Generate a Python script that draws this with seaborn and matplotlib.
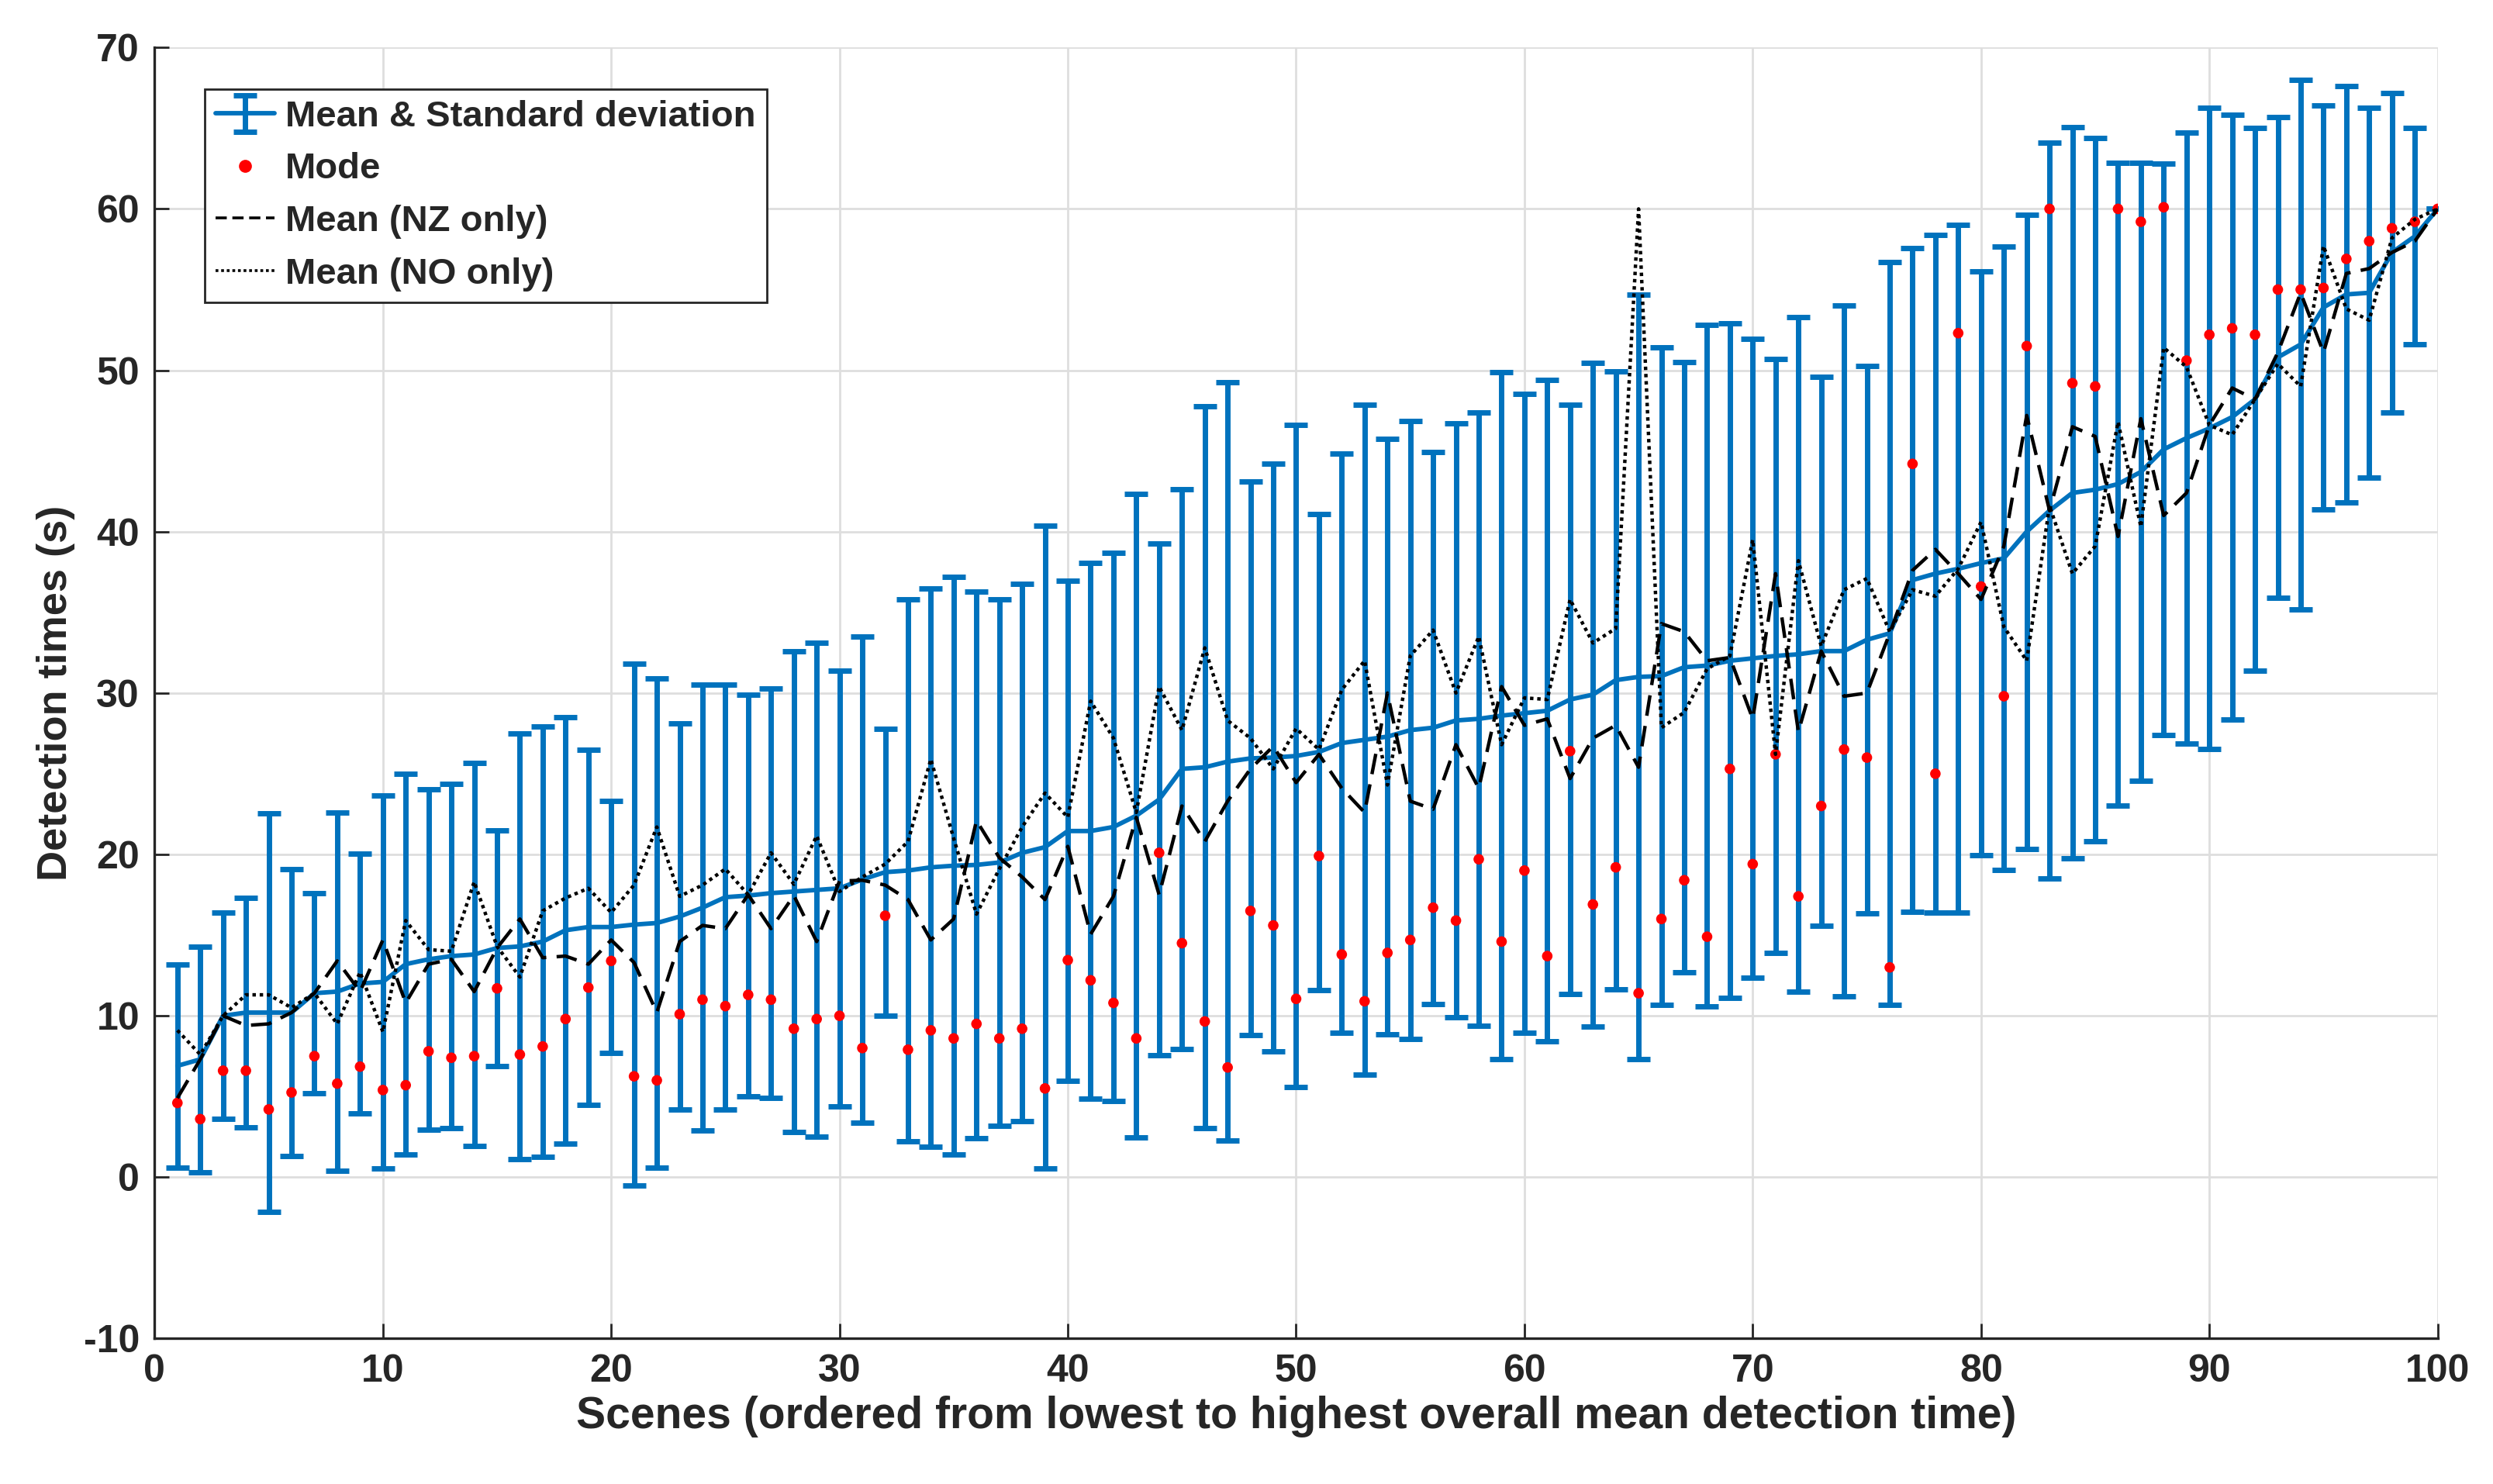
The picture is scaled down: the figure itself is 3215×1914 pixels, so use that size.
import numpy as np
import pandas as pd
import seaborn as sns
import matplotlib.pyplot as plt
from matplotlib.lines import Line2D

sns.set_theme(style="whitegrid")
plt.rcParams['font.family'] = ['Liberation Sans', 'DejaVu Sans']
plt.rcParams['font.weight'] = 'bold'
plt.rcParams['axes.labelweight'] = 'bold'
plt.rcParams['axes.unicode_minus'] = False

# values (scenes 1..100)
scene = np.arange(1, 101)

mean_all = [6.9, 7.3, 10.0, 10.2, 10.2, 10.2, 11.4, 11.5, 12.0, 12.1,
            13.2, 13.5, 13.7, 13.8, 14.2, 14.3, 14.6, 15.3, 15.5, 15.5,
            15.65, 15.75, 16.15, 16.7, 17.35, 17.45, 17.6, 17.7, 17.8, 17.9,
            18.45, 18.9, 19.0, 19.2, 19.3, 19.35, 19.5, 20.1, 20.45, 21.45,
            21.45, 21.7, 22.4, 23.4, 25.3, 25.4, 25.75, 25.95, 26.0, 26.1,
            26.35, 26.9, 27.1, 27.3, 27.7, 27.85, 28.3, 28.4, 28.6, 28.75,
            28.9, 29.6, 29.9, 30.8, 31.0, 31.05, 31.6, 31.7, 32.0, 32.15,
            32.3, 32.4, 32.6, 32.6, 33.3, 33.7, 37.0, 37.4, 37.7, 38.05,
            38.35, 40.0, 41.3, 42.4, 42.6, 42.95, 43.7, 45.1, 45.8, 46.4,
            47.1, 48.2, 50.8, 51.6, 53.9, 54.7, 54.8, 57.3, 58.3, 60.0]

std_all = [6.3, 7.0, 6.4, 7.1, 12.35, 8.9, 6.2, 11.1, 8.05, 11.55,
           11.8, 10.55, 10.65, 11.85, 7.3, 13.2, 13.35, 13.2, 11.0, 7.8,
           16.15, 15.15, 11.95, 13.8, 13.15, 12.45, 12.7, 14.9, 15.3, 13.5,
           15.05, 8.9, 16.8, 17.3, 17.9, 16.95, 16.3, 16.65, 19.9, 15.5,
           16.6, 17.0, 19.95, 15.85, 17.35, 22.35, 23.5, 17.15, 18.2, 20.5,
           14.75, 17.95, 20.75, 18.45, 19.15, 17.1, 18.4, 19.0, 21.3, 19.8,
           20.5, 18.25, 20.55, 19.15, 23.7, 20.35, 18.9, 21.1, 20.9, 19.8,
           18.4, 20.9, 17.0, 21.4, 16.95, 23.0, 20.55, 21.0, 21.3, 18.1,
           19.3, 19.65, 22.8, 22.65, 21.8, 19.9, 19.15, 17.7, 18.95, 19.85,
           18.75, 16.8, 14.9, 16.4, 12.5, 12.9, 11.45, 9.9, 6.7, 0.0]

mode_all = [4.6, 3.6, 6.6, 6.6, 4.2, 5.25, 7.5, 5.8, 6.85, 5.4,
            5.7, 7.8, 7.4, 7.5, 11.7, 7.6, 8.1, 9.8, 11.75, 13.4,
            6.25, 6.0, 10.1, 11.0, 10.6, 11.3, 11.0, 9.2, 9.8, 10.0,
            8.0, 16.2, 7.9, 9.1, 8.6, 9.5, 8.6, 9.2, 5.5, 13.45,
            12.2, 10.8, 8.6, 20.1, 14.5, 9.65, 6.8, 16.5, 15.6, 11.05,
            19.9, 13.8, 10.9, 13.9, 14.7, 16.7, 15.9, 19.7, 14.6, 19.0,
            13.7, 26.4, 16.9, 19.2, 11.4, 16.0, 18.4, 14.9, 25.3, 19.4,
            26.2, 17.4, 23.0, 26.5, 26.0, 13.0, 44.2, 25.0, 52.3, 36.6,
            29.8, 51.5, 60.0, 49.2, 49.0, 60.0, 59.2, 60.1, 50.6, 52.2,
            52.6, 52.2, 55.0, 55.0, 55.1, 56.9, 58.0, 58.8, 59.2, 60.0]

mean_nz = [4.9, 7.3, 10.0, 9.4, 9.5, 10.2, 11.4, 13.4, 11.5, 14.7,
           10.8, 13.2, 13.5, 11.5, 14.2, 16.0, 13.6, 13.7, 13.2, 14.7,
           13.3, 10.2, 14.6, 15.6, 15.4, 17.5, 15.4, 17.45, 14.6, 18.35,
           18.4, 18.1, 17.2, 14.7, 16.0, 22.1, 19.8, 18.6, 17.2, 20.5,
           15.05, 17.4, 22.3, 17.5, 23.0, 20.8, 23.3, 25.3, 26.7, 24.45,
           26.2, 24.1, 22.6, 30.0, 23.3, 22.8, 26.8, 24.1, 30.4, 28.0,
           28.4, 24.7, 27.2, 28.0, 25.4, 34.3, 33.8, 32.0, 32.2, 28.4,
           37.4, 27.6, 32.6, 29.8, 30.0, 33.7, 37.6, 38.9, 37.4, 35.8,
           39.1, 47.2, 41.3, 46.5, 45.9, 39.7, 47.0, 41.0, 42.4, 46.6,
           48.9, 48.2, 51.1, 54.8, 51.1, 56.0, 56.3, 57.3, 58.0, 60.0]

mean_no = [9.1, 7.6, 10.0, 11.3, 11.3, 10.5, 11.4, 9.5, 12.7, 9.0,
           15.9, 14.1, 14.0, 18.3, 14.3, 12.4, 16.5, 17.3, 17.9, 16.4,
           18.1, 21.7, 17.4, 18.1, 19.1, 17.5, 20.1, 18.15, 21.15, 17.7,
           18.6, 19.4, 20.8, 25.9, 21.0, 16.3, 19.1, 21.7, 23.8, 22.3,
           29.5, 27.2, 22.6, 30.4, 27.7, 32.8, 28.3, 27.2, 25.3, 27.8,
           26.5, 30.2, 32.0, 24.3, 32.3, 33.9, 30.0, 33.5, 26.8, 29.7,
           29.6, 35.8, 33.1, 34.0, 60.0, 27.85, 28.8, 31.5, 32.3, 39.5,
           26.2, 38.2, 32.9, 36.4, 37.1, 33.8, 36.4, 36.0, 37.7, 40.6,
           34.1, 32.0, 41.6, 37.4, 39.1, 46.8, 40.3, 51.4, 50.2, 46.6,
           46.0, 48.2, 50.4, 49.0, 57.7, 53.8, 53.1, 58.2, 59.35, 60.0]

df = pd.DataFrame({'scene': scene, 'mean': mean_all, 'std': std_all,
                   'mode': mode_all, 'nz': mean_nz, 'no': mean_no})

blue = '#0072BD'
dark = '#262626'

fig = plt.figure(figsize=(16.075, 9.57), dpi=200)
ax = fig.add_axes([0.062, 0.098, 0.9158, 0.87])

# mean with standard deviation bars
ax.errorbar(df['scene'], df['mean'], yerr=df['std'], fmt='-', color=blue,
            ecolor=blue, lw=2.1, elinewidth=2.5, capsize=5.5, capthick=2.5,
            zorder=2)

# mode as red dots
sns.scatterplot(data=df, x='scene', y='mode', color='red', s=24,
                edgecolor='none', ax=ax, zorder=3, legend=False)

# per-country means
sns.lineplot(data=df, x='scene', y='nz', color='black', lw=1.6,
             ax=ax, zorder=4, legend=False)
ax.lines[-1].set_dashes([6, 3])
sns.lineplot(data=df, x='scene', y='no', color='black', lw=1.6,
             ax=ax, zorder=4, legend=False)
ax.lines[-1].set_dashes([1, 1.1])

ax.set_xlim(0, 100)
ax.set_ylim(-10, 70)
ax.set_xticks(np.arange(0, 101, 10))
ax.set_yticks(np.arange(-10, 71, 10))
ax.grid(True, color='#dedede', lw=1.0)
ax.set_axisbelow(True)

for s in ['top', 'right']:
    ax.spines[s].set_visible(False)
for s in ['left', 'bottom']:
    ax.spines[s].set_color(dark)
    ax.spines[s].set_linewidth(1.2)

ax.tick_params(axis='both', direction='in', length=7, width=1.0,
               colors=dark, labelsize=18, pad=7,
               left=True, bottom=True)
for lab in ax.get_xticklabels() + ax.get_yticklabels():
    lab.set_fontweight('bold')

ax.set_xlabel('Scenes (ordered from lowest to highest overall mean detection time)',
              fontsize=20.5, fontweight='bold', color=dark, labelpad=3)
ax.set_ylabel('Detection times (s)', fontsize=19.5, fontweight='bold',
              color=dark, labelpad=4)

# legend
eb_handle = ax.containers[0]
h_mode = Line2D([], [], ls='none', marker='o', color='red', markersize=5)
h_nz = Line2D([], [], color='black', lw=1.3, dashes=[4, 2])
h_no = Line2D([], [], color='black', lw=1.3, dashes=[1, 1])
leg = ax.legend([eb_handle, h_mode, h_nz, h_no],
                ['Mean & Standard deviation', 'Mode', 'Mean (NZ only)',
                 'Mean (NO only)'],
                loc='upper left', bbox_to_anchor=(0.022, 0.968),
                fontsize=17, frameon=True, fancybox=False, framealpha=1,
                edgecolor=dark, handlelength=1.6, handletextpad=0.3,
                borderpad=0.3, labelspacing=0.5, borderaxespad=0)
leg.get_frame().set_linewidth(1.0)
for t in leg.get_texts():
    t.set_fontweight('bold')

fig.savefig('out.png', dpi=200)
